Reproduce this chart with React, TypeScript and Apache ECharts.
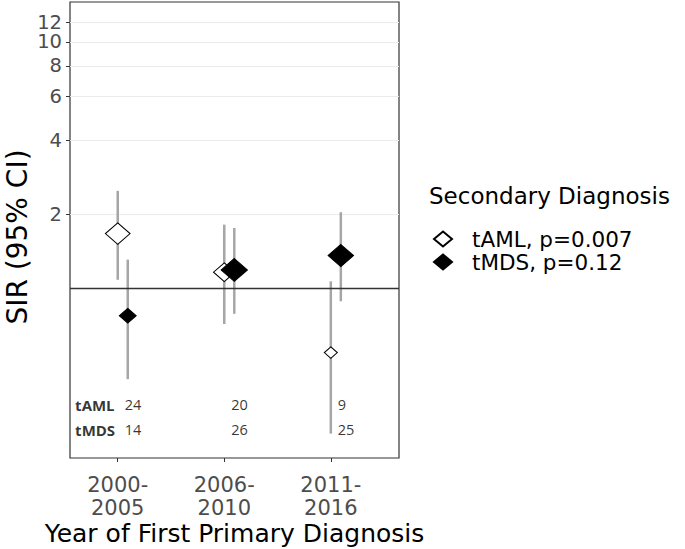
import React, { useEffect, useRef } from "react";
import * as echarts from "echarts";

// ---- data ----
const categories = ["2000-\n2005", "2006-\n2010", "2011-\n2016"];
const seriesNames = ["tAML", "tMDS"];
const pValues = ["0.007", "0.12"];

const tamlSIR = [1.67, 1.165, 0.55];
const tamlLower = [1.085, 0.718, 0.258];
const tamlUpper = [2.49, 1.816, 1.07];
const tamlCount = [24, 20, 9];

const tmdsSIR = [0.776, 1.19, 1.36];
const tmdsLower = [0.429, 0.79, 0.888];
const tmdsUpper = [1.31, 1.76, 2.04];
const tmdsCount = [14, 26, 25];

const yTicks = [2, 4, 6, 8, 10, 12];
const xTicks = [1, 2, 3];

// ---- layout constants ----
const DODGE = 0.094;
const COUNT_X_OFFSET = 0.065;
const ROW_LABEL_X = 0.6;
const COUNT_ROW_Y = [0.338, 0.267];
const FONT = "DejaVu Sans";
const Y_MIN = 0.2055;
const Y_MAX = 14.52;

const sizeOf = (n: number) => {
  const w = 13 + (n - 9) * 0.78;
  return [w, w * 0.87];
};

export default function App() {
  const ref = useRef<HTMLDivElement>(null);

  useEffect(() => {
    document.body.style.margin = "0";
    const chart = echarts.init(ref.current!, null, { renderer: "svg" });

    const errTaml = categories.map((_, i) => [i + 1, tamlLower[i], tamlUpper[i]]);
    const errTmds = categories.map((_, i) => [i + 1 + DODGE, tmdsLower[i], tmdsUpper[i]]);
    const ptTaml = categories.map((_, i) => [i + 1, tamlSIR[i]]);
    const ptTmds = categories.map((_, i) => [i + 1 + DODGE, tmdsSIR[i]]);

    const countLabels = [
      ...tamlCount.map((c, i) => ({ value: [i + 1 + COUNT_X_OFFSET, COUNT_ROW_Y[0]], name: String(c) })),
      ...tmdsCount.map((c, i) => ({ value: [i + 1 + COUNT_X_OFFSET, COUNT_ROW_Y[1]], name: String(c) })),
    ];
    const rowLabels = seriesNames.map((s, i) => ({ value: [ROW_LABEL_X, COUNT_ROW_Y[i]], name: s }));

    const errRender = (params: any, api: any) => {
      const x = api.value(0);
      const lo = api.coord([x, api.value(1)]);
      const hi = api.coord([x, api.value(2)]);
      return {
        type: "line",
        shape: { x1: lo[0], y1: lo[1], x2: hi[0], y2: hi[1] },
        style: { stroke: "#a6a6a6", lineWidth: 2.5 },
      };
    };

    const yLabelStyle = {
      fontFamily: FONT,
      fontSize: 19.5,
      lineHeight: 15,
      color: "#4d4d4d",
      margin: 8,
    };

    const option: any = {
      animation: false,
      backgroundColor: "#ffffff",
      title: {
        text: "Secondary Diagnosis",
        left: 429,
        top: 184,
        padding: 0,
        textStyle: { fontFamily: FONT, fontSize: 23, fontWeight: "normal", color: "#000" },
      },
      legend: {
        data: seriesNames,
        orient: "vertical",
        left: 433,
        top: 228,
        padding: 0,
        itemWidth: 18,
        itemHeight: 15,
        itemGap: 1,
        formatter: (name: string) => `${name}, p=${pValues[seriesNames.indexOf(name)]}`,
        textStyle: {
          fontFamily: FONT,
          fontSize: 21.5,
          color: "#000",
          lineHeight: 20,
          height: 20,
          padding: [0, 0, 0, 15],
        },
      },
      grid: {
        left: 70,
        right: 286,
        top: 2,
        bottom: 91,
        outerBoundsMode: "none",
        containLabel: false,
        show: true,
        borderColor: "#333",
        borderWidth: 1.2,
        backgroundColor: "#fff",
      },
      xAxis: {
        type: "value",
        min: 0.552,
        max: 3.64,
        splitLine: { show: false },
        axisLine: { show: false },
        axisTick: { show: true, customValues: xTicks, length: 4, lineStyle: { color: "#333" } },
        axisLabel: {
          customValues: xTicks,
          showMinLabel: true,
          showMaxLabel: true,
          formatter: (v: number) => categories[Math.round(v) - 1] ?? "",
          fontFamily: FONT,
          fontSize: 21,
          lineHeight: 23,
          color: "#4d4d4d",
          margin: 15,
        },
        name: "Year of First Primary Diagnosis",
        nameLocation: "middle",
        nameGap: 63,
        nameMoveOverlap: false,
        nameTextStyle: { fontFamily: FONT, fontSize: 25, color: "#000" },
      },
      yAxis: [
        {
          type: "log",
          logBase: 2,
          min: Y_MIN,
          max: Y_MAX,
          axisLine: { show: false },
          axisTick: { show: true, customValues: yTicks, length: 4, lineStyle: { color: "#333" } },
          axisLabel: { ...yLabelStyle, customValues: yTicks.slice(0, -1) },
          splitLine: { show: true, lineStyle: { color: "#ebebeb", width: 1 } },
          minorSplitLine: { show: false },
          name: "SIR (95% CI)",
          nameLocation: "middle",
          nameGap: 39,
          nameMoveOverlap: false,
          nameRotate: 90,
          nameTextStyle: { fontFamily: FONT, fontSize: 28, color: "#000", padding: [0, 14, 0, 0] },
        },
        {
          type: "log",
          logBase: 2,
          min: Y_MIN,
          max: Y_MAX,
          position: "left",
          axisLine: { show: false },
          axisTick: { show: false },
          axisLabel: { ...yLabelStyle, customValues: yTicks.slice(-1), showMaxLabel: true },
          splitLine: { show: false },
          minorSplitLine: { show: false },
        },
      ],
      series: [
        {
          type: "custom",
          name: "tAML CI",
          renderItem: errRender,
          data: errTaml,
          encode: { x: 0, y: [1, 2] },
          z: 1,
          silent: true,
        },
        {
          type: "custom",
          name: "tMDS CI",
          renderItem: errRender,
          data: errTmds,
          encode: { x: 0, y: [1, 2] },
          z: 1,
          silent: true,
        },
        {
          type: "scatter",
          name: "tAML",
          symbol: "diamond",
          symbolSize: (_v: any, p: any) => sizeOf(tamlCount[p.dataIndex]),
          itemStyle: { color: "#ffffff", borderColor: "#000", borderWidth: 1, opacity: 1 },
          data: ptTaml,
          z: 3,
          markLine: {
            silent: true,
            symbol: ["none", "none"],
            label: { show: false },
            lineStyle: { color: "#333", width: 1.3, type: "solid" },
            data: [{ yAxis: 1 }],
          },
        },
        {
          type: "scatter",
          name: "tMDS",
          symbol: "diamond",
          symbolSize: (_v: any, p: any) => sizeOf(tmdsCount[p.dataIndex]),
          itemStyle: { color: "#000000", borderColor: "#000", borderWidth: 1, opacity: 1 },
          data: ptTmds,
          z: 4,
        },
        {
          type: "scatter",
          name: "counts",
          symbolSize: 0,
          silent: true,
          data: countLabels,
          label: {
            show: true,
            position: "right",
            distance: 0,
            formatter: "{b}",
            fontFamily: "Open Sans",
            fontSize: 14.5,
            color: "#000",
          },
          z: 5,
        },
        {
          type: "scatter",
          name: "rows",
          symbolSize: 0,
          silent: true,
          data: rowLabels,
          label: {
            show: true,
            position: "right",
            distance: 0,
            formatter: "{b}",
            fontFamily: "Open Sans",
            fontWeight: "bold",
            fontSize: 15,
            color: "#000",
          },
          z: 5,
        },
      ],
    };

    chart.setOption(option);
    return () => chart.dispose();
  }, []);

  return <div ref={ref} style={{ width: 685, height: 549 }} />;
}
